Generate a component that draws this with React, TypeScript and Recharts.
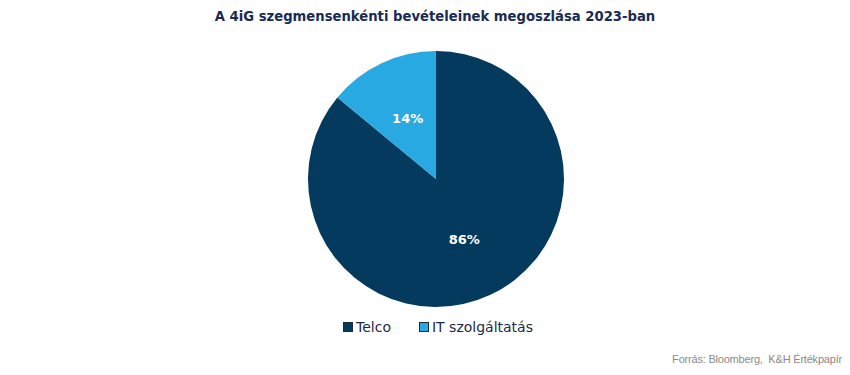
import React from 'react';
import { PieChart, Pie, Cell } from 'recharts';

const segments = ['Telco', 'IT szolgáltatás'];
const shares = [86, 14];
const colors = ['#033a5e', '#29a9e1'];

const data = segments.map((name, i) => ({ name, value: shares[i] }));

const RADIAN = Math.PI / 180;

const renderLabel = (props: any) => {
  const { cx, cy, midAngle, outerRadius, value } = props;
  const r = outerRadius * 0.52;
  const x = cx + r * Math.cos(-midAngle * RADIAN);
  const y = cy + r * Math.sin(-midAngle * RADIAN);
  return (
    <text
      x={x}
      y={y}
      fill="#ffffff"
      textAnchor="middle"
      dominantBaseline="central"
      fontSize={13}
      fontWeight="bold"
      fontFamily="DejaVu Sans, sans-serif"
    >
      {value}%
    </text>
  );
};

export default function App() {
  return (
    <div style={{ position: 'absolute', left: 0, top: 0, width: 850, height: 375, background: '#fff' }}>
      <div
        style={{
          position: 'absolute',
          top: 9,
          left: 0,
          width: 870,
          textAlign: 'center',
          fontFamily: 'DejaVu Sans, sans-serif',
          fontWeight: 'bold',
          fontSize: 13.2,
          color: '#1a2b52',
        }}
      >
        A 4iG szegmensenkénti bevételeinek megoszlása 2023-ban
      </div>
      <PieChart width={850} height={375} margin={{ top: 0, right: 0, bottom: 0, left: 0 }}>
        <Pie
          data={data}
          dataKey="value"
          nameKey="name"
          cx={436}
          cy={179}
          outerRadius={128}
          startAngle={90}
          endAngle={-270}
          stroke="none"
          label={renderLabel}
          labelLine={false}
          isAnimationActive={false}
        >
          {data.map((d, i) => (
            <Cell key={d.name} fill={colors[i]} />
          ))}
        </Pie>
      </PieChart>
      <div
        style={{
          position: 'absolute',
          top: 319,
          left: 0,
          width: 876,
          display: 'flex',
          justifyContent: 'center',
          gap: 28,
          fontFamily: 'DejaVu Sans, sans-serif',
          fontSize: 14,
          color: '#1b2a44',
        }}
      >
        {segments.map((s, i) => (
          <span key={s} style={{ display: 'flex', alignItems: 'center' }}>
            <span
              style={{
                display: 'inline-block',
                width: 8,
                height: 8,
                background: colors[i],
                border: '1px solid #1b2a44',
                marginRight: 3,
              }}
            />
            {s}
          </span>
        ))}
      </div>
      <div
        style={{
          position: 'absolute',
          top: 353,
          right: 8,
          fontFamily: 'Liberation Sans, sans-serif',
          fontSize: 11,
          letterSpacing: -0.2,
          color: '#8a8a8a',
          whiteSpace: 'pre',
        }}
      >
        Forrás: Bloomberg,  K&amp;H Értékpapír
      </div>
    </div>
  );
}
